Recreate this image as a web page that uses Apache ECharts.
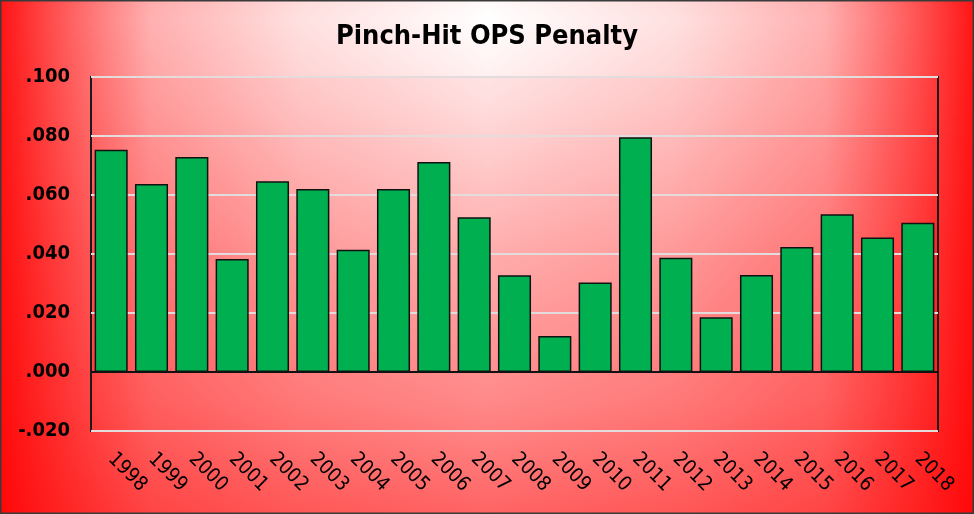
<!DOCTYPE html>
<html><head><meta charset="utf-8">
<script src="https://cdn.jsdelivr.net/npm/echarts@6/dist/echarts.min.js"></script>
<style>html,body{margin:0;padding:0;background:#fff}#c{width:974px;height:514px}</style>
</head><body><div id="c"></div>
<script>
const years = ['1998','1999','2000','2001','2002','2003','2004','2005','2006','2007','2008','2009','2010','2011','2012','2013','2014','2015','2016','2017','2018'];
const penalty = [0.0753,0.0637,0.0729,0.0383,0.0647,0.0620,0.0414,0.0620,0.0712,0.0525,0.0328,0.0122,0.0303,0.0796,0.0387,0.0186,0.0329,0.0424,0.0535,0.0456,0.0506];
const titleText = 'Pinch-Hit OPS Penalty';

const FONT = '"DejaVu Sans Condensed","DejaVu Sans",sans-serif';

// background: soft white-to-red gradient (styling only)
(function(){
  const W = 974, H = 514, cx = 487, cy = 20;
  const hProf = [[0,0],[187,0.12],[287,0.25],[337,0.31],[387,0.5],[437,0.7],[487,0.92],[500,1]];
  const vProf = [[0,0],[80,0.08],[230,0.28],[380,0.43],[460,0.56],[500,0.62]];
  const interp = (prof, d) => { for (let i=1;i<prof.length;i++){ if (d <= prof[i][0]) { const [d0,t0]=prof[i-1],[d1,t1]=prof[i]; return t0+(t1-t0)*(d-d0)/(d1-d0);} } return prof[prof.length-1][1]; };
  const cv = document.createElement('canvas'); cv.width = W; cv.height = H;
  const ctx = cv.getContext('2d'); const img = ctx.createImageData(W, H);
  for (let y=0;y<H;y++){
    const tv = interp(vProf, Math.abs(y-cy));
    for (let x=0;x<W;x++){
      const th = interp(hProf, Math.abs(x-cx));
      const t = 1 - (1-th)*(1-tv);
      const g = Math.round(255*(1-t)); const i=(y*W+x)*4;
      img.data[i]=255; img.data[i+1]=g; img.data[i+2]=g; img.data[i+3]=255;
    }
  }
  ctx.putImageData(img,0,0);
  document.getElementById('c').style.background = 'url(' + cv.toDataURL() + ')';
})();

const chart = echarts.init(document.getElementById('c'), null, {renderer:'canvas'});
chart.setOption({
  animation: false,
  backgroundColor: 'transparent',
  graphic: [
    {type:'rect', z:100, silent:true, shape:{x:0.75,y:0.75,width:972.5,height:512.5}, style:{fill:null, stroke:'#3a3a3a', lineWidth:1.5}}
  ],
  title: {text: titleText, left:'center', top:18,
    textStyle:{fontFamily:FONT, fontWeight:'bold', fontSize:27, color:'#000'}},
  grid: {left:91, right:36, top:77, bottom:83, show:true, backgroundColor:'rgba(255,0,0,0.05)', borderColor:'#1a1a1a', borderWidth:2},
  xAxis: {type:'category', data: years,
    axisLine:{show:false, onZero:false}, axisTick:{show:false},
    axisLabel:{rotate:-45, margin:25, interval:0, fontFamily:FONT, fontWeight:'normal', fontSize:20, color:'#000'}},
  yAxis: {type:'value', min:-0.02, max:0.1, interval:0.02,
    axisLine:{show:false}, axisTick:{show:false},
    splitLine:{show:true, lineStyle:{color:'#e4dcdc', width:2}},
    axisLabel:{margin:21, fontFamily:FONT, fontWeight:'bold', fontSize:20, color:'#000',
      formatter: v => { const s = Math.abs(v).toFixed(3).replace(/^0/,''); return (v < -1e-9 ? '-' : '') + s; }}},
  series: [{type:'bar', data: penalty, barCategoryGap:'18%',
    itemStyle:{color:'#00b050', borderColor:'#111', borderWidth:1.5},
    markLine:{silent:true, symbol:['none','none'], label:{show:false},
      lineStyle:{color:'#111', width:2, type:'solid'}, data:[{yAxis:0}]}}]
});
</script></body></html>
